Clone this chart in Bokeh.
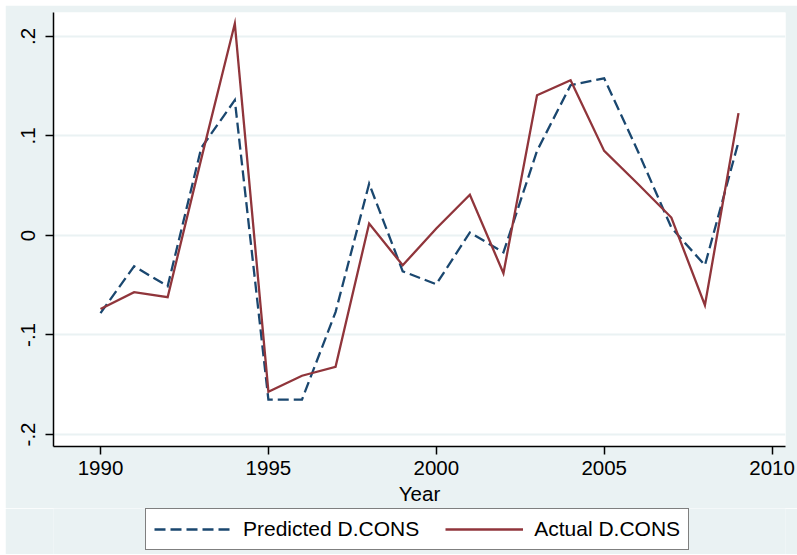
from bokeh.plotting import figure
from bokeh.models import Legend, LegendItem, FixedTicker, ColumnDataSource, Range1d
from bokeh.layouts import column
from bokeh.embed import file_html
from bokeh.resources import INLINE

years = list(range(1990, 2010))
predicted = [-0.078, -0.031, -0.051, 0.088, 0.136, -0.165, -0.165, -0.077, 0.052, -0.036,
             -0.049, 0.003, -0.017, 0.085, 0.151, 0.158, 0.085, 0.008, -0.030, 0.094]
actual = [-0.074, -0.057, -0.062, 0.077, 0.213, -0.157, -0.141, -0.132, 0.012, -0.030,
          0.007, 0.041, -0.038, 0.141, 0.156, 0.085, 0.052, 0.018, -0.070, 0.123]

x_ticks = [1990, 1995, 2000, 2005, 2010]
y_ticks = [-0.2, -0.1, 0.0, 0.1, 0.2]
y_tick_labels = ["-.2", "-.1", "0", ".1", ".2"]
series_names = ["Predicted D.CONS", "Actual D.CONS"]
x_label = "Year"

FONT = "Liberation Sans"
BG = "#eaf2f3"
PRED_COLOR = "#1a476f"
ACT_COLOR = "#90353b"
PRED_DASH = "11 5"
LW = 2.3

src = ColumnDataSource(dict(year=years, predicted=predicted, actual=actual))

p = figure(width=792, height=503, output_backend="svg", toolbar_location=None,
           x_range=(1988.6, 2010.4), y_range=(-0.2121, 0.2241),
           min_border_left=48, min_border_right=12, min_border_top=7, min_border_bottom=62)
p.border_fill_color = BG
p.background_fill_color = "white"
p.outline_line_color = None

p.line("year", "predicted", source=src, line_color=PRED_COLOR, line_width=LW,
       line_dash=PRED_DASH, line_join="miter")
p.line("year", "actual", source=src, line_color=ACT_COLOR, line_width=LW,
       line_join="miter")

# axes
p.xaxis.ticker = FixedTicker(ticks=x_ticks)
p.yaxis.ticker = FixedTicker(ticks=y_ticks)
p.yaxis.major_label_overrides = {t: l for t, l in zip(y_ticks, y_tick_labels)}
p.yaxis.major_label_orientation = "vertical"
for ax in (p.xaxis, p.yaxis):
    ax.axis_line_color = "black"
    ax.axis_line_width = 1.5
    ax.major_tick_line_color = "black"
    ax.major_tick_line_width = 1.5
    ax.major_tick_out = 8
    ax.major_tick_in = 0
    ax.minor_tick_line_color = None
    ax.major_label_text_font = FONT
    ax.major_label_text_font_size = "20.5px"
    ax.major_label_text_color = "black"
p.yaxis.major_label_standoff = 10
p.xaxis.major_label_standoff = 6
p.xaxis.axis_label = x_label
p.xaxis.axis_label_text_font = FONT
p.xaxis.axis_label_text_font_size = "20.5px"
p.xaxis.axis_label_text_font_style = "normal"
p.xaxis.axis_label_text_color = "black"
p.xaxis.axis_label_standoff = 4

p.xgrid.grid_line_color = None
p.ygrid.grid_line_color = BG
p.ygrid.grid_line_width = 2

# legend strip below the plot (same background), holding the legend box;
# its ranges keep the series themselves out of view, only the legend shows
q = figure(width=792, height=46, output_backend="svg", toolbar_location=None,
           x_axis_location=None, y_axis_location=None,
           x_range=Range1d(0, 1), y_range=Range1d(0, 1),
           min_border_left=0, min_border_right=0, min_border_top=0, min_border_bottom=0)
q.border_fill_color = BG
q.background_fill_color = BG
q.outline_line_color = None
q.grid.grid_line_color = None
lp = q.line("year", "predicted", source=src, line_color=PRED_COLOR, line_width=LW,
            line_dash=PRED_DASH)
la = q.line("year", "actual", source=src, line_color=ACT_COLOR, line_width=LW)

legend = Legend(items=[LegendItem(label=series_names[0], renderers=[lp]),
                       LegendItem(label=series_names[1], renderers=[la])],
                orientation="horizontal", location=(92, 4))
legend.label_text_font = FONT
legend.label_text_font_size = "21px"
legend.label_text_color = "black"
legend.border_line_color = "black"
legend.border_line_width = 1.2
legend.background_fill_color = "white"
legend.background_fill_alpha = 1
legend.padding = 8
legend.spacing = 26
legend.margin = 0
legend.glyph_width = 78
legend.glyph_height = 22
legend.label_height = 22
legend.label_standoff = 11
q.add_layout(legend, "center")

layout = column(p, q, spacing=0, margin=(5, 0, 0, 5))
open("out.html", "w").write(file_html(layout, INLINE))
